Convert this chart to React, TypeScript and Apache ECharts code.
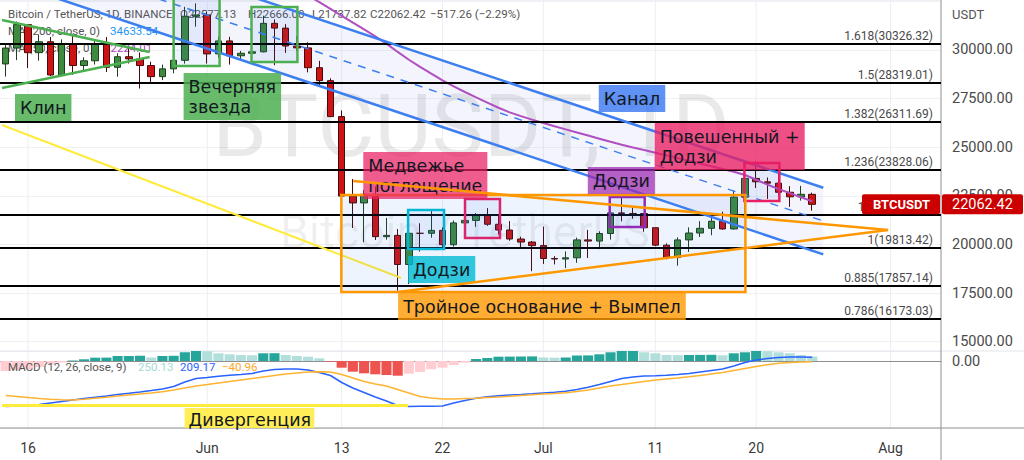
import React, { useEffect, useRef } from 'react';
import * as echarts from 'echarts';

// ---------- data ----------
function makeDates(y: number, m: number, d: number, n: number): string[] {
  const out: string[] = [];
  const t0 = Date.UTC(y, m - 1, d);
  for (let k = 0; k < n; k++) out.push(new Date(t0 + k * 86400000).toISOString().slice(0, 10));
  return out;
}
// daily categories 2022-05-14 .. 2022-08-05
const dates = makeDates(2022, 5, 14, 84);

// [open, close, low, high]
const ohlc: number[][] = [
  [29283, 30101, 28630, 30350], [30101, 31305, 29480, 31460], [31305, 29862, 29070, 31305],
  [29862, 30425, 29450, 30788], [30425, 28715, 28654, 30667], [28715, 30319, 28694, 30545],
  [30319, 29201, 28730, 30777], [29201, 29445, 28950, 29625], [29445, 30293, 29255, 30487],
  [30293, 29110, 28866, 30670], [29110, 29655, 28625, 29834], [29655, 29542, 29305, 30200],
  [29542, 29201, 28019, 29872], [29201, 28630, 28260, 29397], [28630, 29030, 28450, 29250],
  [29030, 29469, 28800, 29600], [29469, 31734, 29300, 32222], [31734, 31802, 31200, 32399],
  [31802, 29799, 29300, 31982], [29799, 30467, 29594, 30689], [30467, 29704, 29250, 30676],
  [29704, 29832, 29450, 29950], [29832, 29906, 29500, 30180], [29906, 31370, 29880, 31765],
  [31370, 31125, 29219, 31575], [31125, 30204, 29850, 31330], [30204, 30109, 29944, 30700],
  [30109, 29091, 28850, 30400], [29091, 28424, 28100, 29440], [28424, 26574, 26560, 28544],
  [26574, 22487, 21925, 26895], [22485, 22136, 20846, 23363], [22136, 22583, 20111, 22800],
  [22583, 20401, 20232, 22983], [20400, 20468, 20246, 21365], [20468, 18970, 17622, 20792],
  [18970, 20574, 17960, 20815], [20574, 20573, 19637, 21090], [20573, 20724, 20348, 21723],
  [20724, 19987, 19770, 20880], [19987, 21110, 19890, 21233], [21110, 21237, 20740, 21558],
  [21237, 21492, 20906, 21614], [21492, 21038, 20960, 21868], [21038, 20742, 20510, 21540],
  [20742, 20281, 20188, 21200], [20281, 20123, 19849, 20400], [20123, 19942, 18626, 20179],
  [19942, 19279, 19000, 20918], [19279, 19252, 18975, 19400], [19252, 19315, 18781, 19647],
  [19315, 20236, 19055, 20354], [20236, 20175, 19304, 20750], [20175, 20564, 19761, 20675],
  [20564, 21624, 20251, 21838], [21624, 21594, 21189, 22527], [21594, 21591, 21322, 21980],
  [21591, 20862, 20655, 21607], [20862, 19963, 19910, 20868], [19963, 19328, 19235, 20059],
  [19328, 20234, 18910, 20366], [20235, 20588, 19616, 20880], [20588, 20830, 20383, 21200],
  [20830, 21195, 20475, 21588], [21195, 20798, 20755, 21684], [20799, 22432, 20762, 22777],
  [22432, 23396, 21581, 23800], [23396, 23223, 22906, 24276], [23223, 23152, 22341, 23442],
  [23152, 22684, 22500, 23756], [22684, 22451, 21934, 23000], [22451, 22579, 22257, 23014],
  [22577.13, 22062.42, 21737.82, 22666.0],
];

// 50-day moving average (starts above the visible range)
const ma50: (number | null)[] = [
  null, null, null, null, null, null, null, null, null, null, null, null, null, null, null, null, null, null,
  null, null, null, null, null, null, null, null, null,
  32800, 32460, 32110, 31760, 31410, 31060, 30700, 30330, 29900, 29500, 29130, 28780, 28440, 28130,
  27840, 27560, 27290, 27030, 26790, 26600, 26420, 26250, 26080, 25920, 25760, 25600, 25440, 25280,
  25130, 24990, 24860, 24720, 24580, 24440, 24290, 24150, 24020, 23880, 23740, 23570, 23330, 23080,
  22850, 22640, 22430, 22224.01,
];

// MACD (12, 26, close, 9)
const macdHist: number[] = [
  -550, -495, -440, -330, -193, -83, 28, 94, 182, 187, 275, 281, 286, 193, 275, 286, 479, 550,
  534, 424, 369, 330, 319, 424, 429, 330, 275, 237, 149, -39, -369, -589, -677, -732, -770, -809,
  -699, -605, -457, -369, -220, -94, 110, 165, 237, 242, 248, 253,
  193, 182, 193, 303, 308, 369, 479, 550, 556, 479, 424, 330, 325, 330, 336, 341, 314, 424, 479,
  550, 539, 479, 424, 330, 250.13,
];
const macdLine: number[] = [
  -2503, -2475, -2437, -2393, -2310, -2228, -2145, -2063, -1991, -1925, -1843, -1777, -1705, -1623,
  -1540, -1403, -1155, -963,
  -908, -836, -787, -743, -688, -550, -468, -440, -440, -495, -633, -798, -1183, -1485, -1733, -1980,
  -2200, -2448, -2503, -2492, -2486, -2475, -2310, -2173, -2052, -1964, -1909, -1870, -1843, -1804,
  -1760, -1722, -1667, -1568, -1447, -1293, -1128, -963, -880, -825, -809, -787, -743, -688, -605,
  -523, -440, -275, -83, 55, 138, 190, 215, 222, 209.17,
];
const macdSignal: number[] = [
  -1898, -1953, -2008, -2063, -2107, -2134, -2145, -2107, -2052, -1997, -1925, -1870, -1815, -1760,
  -1694, -1595, -1485, -1375,
  -1293, -1210, -1128, -1045, -963, -880, -798, -715, -660, -605, -589, -605, -743, -935, -1128, -1265,
  -1375, -1568, -1760, -1953, -2035, -2090, -2090, -2068, -2046, -2008, -1980, -1936, -1898, -1859,
  -1815, -1788, -1744, -1678, -1595, -1485, -1375, -1293, -1210, -1128, -1045, -990, -935, -869, -798,
  -715, -633, -523, -413, -303, -200, -120, -80, -60, -40.96,
];

// time-axis ticks
const tickDates = ['2022-05-16', '2022-06-01', '2022-06-13', '2022-06-22', '2022-07-01', '2022-07-11', '2022-07-20', '2022-08-01'];
const tickTexts = ['16', 'Jun', '13', '22', 'Jul', '11', '20', 'Aug'];

// Fibonacci extension levels
const fibRatios = ['1.618', '1.5', '1.382', '1.236', '1.1', '1', '0.885', '0.786'];
const fibPrices = [30326.32, 28319.01, 26311.69, 23828.06, 21514.5, 19813.42, 17857.14, 16173.03];

// ---------- drawings (anchored in [day index, price]) ----------
type Pt = [number, number];
const wedgeTop: Pt[] = [[-0.32, 31543], [12.86, 29897]];
const wedgeBottom: Pt[] = [[-0.32, 28046], [12.86, 29640]];
const yellowTrend: Pt[] = [[-0.32, 26143], [35.31, 18276]];
const channelUpper: Pt[] = [[17.5, 33600], [72.99, 22919]];
const channelLower: Pt[] = [[-0.32, 33600], [72.99, 19493]];
const channelMid: Pt[] = [[8.59, 33600], [72.99, 21207]];
const channelArea: Pt[] = [[-0.32, 37028], [72.99, 22919], [72.99, 19493], [-0.32, 33600]];
const pennantUpper: Pt[] = [[31.03, 23264], [78.78, 20744]];
const pennantLower: Pt[] = [[35.04, 17556], [78.78, 20744]];

const GREEN = '#4caf50', CYAN = '#00bcd4', PINK = '#e91e63', PURPLE = '#9c27b0', ORANGE = '#ff9800';
const boxes: { from: Pt; to: Pt; color: string }[] = [
  { from: [15.0, 33000], to: [19.1, 29177], color: GREEN },
  { from: [21.95, 32211], to: [26.05, 29383], color: GREEN },
  { from: [35.93, 21772], to: [39.14, 19767], color: CYAN },
  { from: [41.01, 22338], to: [44.13, 20333], color: PINK },
  { from: [53.93, 22441], to: [57.05, 20898], color: PURPLE },
  { from: [65.95, 24189], to: [69.07, 22235], color: PINK },
  { from: [29.97, 22544], to: [66.04, 17556], color: ORANGE },
];
const notes: { text: string; at: Pt; bg: string }[] = [
  { text: 'Клин', at: [0.84, 27737], bg: 'rgba(76,175,80,0.85)' },
  { text: 'Вечерняя\nзвезда', at: [15.89, 28817], bg: 'rgba(76,175,80,0.85)' },
  { text: 'Медвежье\nпоглощение', at: [31.93, 24755], bg: 'rgba(233,30,99,0.72)' },
  { text: 'Додзи', at: [35.93, 19407], bg: 'rgba(0,188,212,0.8)' },
  { text: 'Канал', at: [52.95, 28200], bg: 'rgba(41,110,240,0.75)' },
  { text: 'Додзи', at: [51.97, 23984], bg: 'rgba(156,39,176,0.72)' },
  { text: 'Повешенный +\nДодзи', at: [57.94, 26246], bg: 'rgba(233,30,99,0.78)' },
  { text: 'Тройное основание + Вымпел', at: [35.04, 17504], bg: 'rgba(255,152,0,0.8)' },
];
const divergenceLine: Pt[] = [[-0.32, -2448], [35.93, -2448]];
const divergenceNote = { text: 'Дивергенция', from: [15.98, -2585] as Pt, to: [27.56, -3685] as Pt };

const FONT_UI = 'Roboto, "Liberation Sans", sans-serif';
const FONT_NOTE = '"DejaVu Sans", Verdana, sans-serif';
const INK = '#131722';

export default function App() {
  const ref = useRef<HTMLDivElement>(null);

  useEffect(() => {
    const chart = echarts.init(ref.current!, null, { renderer: 'svg' });

    const histData = macdHist.map((v, k) => {
      const prev = k > 0 ? macdHist[k - 1] : v;
      const color = v >= 0 ? (v >= prev ? '#26a69a' : '#b2dfdb') : (v < prev ? '#ef5350' : '#ffcdd2');
      return { value: v, itemStyle: { color } };
    });

    chart.setOption({
      animation: false,
      backgroundColor: '#ffffff',
      grid: [
        { left: -2, right: 83, top: 0, height: 341.7 },
        { left: -2, right: 83, top: 351, height: 77 },
      ],
      xAxis: [
        {
          type: 'category', gridIndex: 0, data: dates, boundaryGap: true,
          axisLine: { show: false }, axisTick: { show: false }, axisLabel: { show: false }, splitLine: { show: false },
        },
        {
          type: 'category', gridIndex: 1, data: dates, boundaryGap: true,
          axisLine: { show: true, lineStyle: { color: '#8f8f8f', width: 1 } },
          axisTick: { show: false }, splitLine: { show: false },
          axisLabel: {
            interval: (_i: number, v: string) => tickDates.indexOf(v) >= 0,
            formatter: (v: string) => tickTexts[tickDates.indexOf(v)] ?? '',
            color: '#3a3a3a', fontSize: 14, fontFamily: FONT_UI, margin: 13,
          },
        },
      ],
      yAxis: [
        {
          type: 'value', gridIndex: 0, position: 'right', min: 15000, max: 32571, interval: 2500,
          axisLine: { show: false }, axisTick: { show: false },
          splitLine: { show: true, lineStyle: { color: '#f0f1f4', width: 1 } },
          axisLabel: {
            formatter: (v: number) => (v % 2500 === 0 && v <= 30000 ? v.toFixed(2) : ''),
            color: '#4a4a4a', fontSize: 14.5, fontFamily: FONT_UI, margin: 11,
          },
        },
        {
          type: 'value', gridIndex: 1, position: 'right', min: -3685, max: 550, interval: 3685,
          axisLine: { show: false }, axisTick: { show: false },
          splitLine: { show: true, lineStyle: { color: '#eceef2', width: 1 } },
          axisLabel: {
            formatter: (v: number) => (v === 0 ? '0.00' : ''),
            color: '#4a4a4a', fontSize: 14.5, fontFamily: FONT_UI, margin: 11,
          },
        },
      ],
      series: [
        {
          name: 'BTCUSDT', type: 'candlestick', xAxisIndex: 0, yAxisIndex: 0, data: ohlc, barWidth: 7,
          itemStyle: { color: '#3e8a3e', color0: '#cc1414', borderColor: '#1f3f1f', borderColor0: '#4a0808', borderWidth: 1 },
          markLine: {
            silent: true, symbol: 'none', z: 6,
            lineStyle: { color: '#000000', width: 2, type: 'solid' },
            label: {
              position: 'insideEndTop', distance: [8, 2], color: '#4a4a4a', fontSize: 12, fontFamily: FONT_UI,
              formatter: (p: any) => p.name,
            },
            data: fibPrices.map((v, k) => ({ name: `${fibRatios[k]}(${v.toFixed(2)})`, yAxis: v })),
          },
        },
        {
          name: 'MA 50', type: 'line', xAxisIndex: 0, yAxisIndex: 0, data: ma50, symbol: 'none',
          lineStyle: { color: '#b04fc0', width: 2 }, z: 3,
        },
        {
          name: 'Histogram', type: 'bar', xAxisIndex: 1, yAxisIndex: 1, data: histData, barWidth: '90%',
        },
        {
          name: 'MACD', type: 'line', xAxisIndex: 1, yAxisIndex: 1, data: macdLine, symbol: 'none',
          lineStyle: { color: '#2962ff', width: 1.5 },
        },
        {
          name: 'Signal', type: 'line', xAxisIndex: 1, yAxisIndex: 1, data: macdSignal, symbol: 'none',
          lineStyle: { color: '#ffb330', width: 1.5 },
        },
      ],
    });

    // pixel helpers through the chart's own scales
    const x0 = chart.convertToPixel({ xAxisIndex: 0 }, 0) as number;
    const step = (chart.convertToPixel({ xAxisIndex: 0 }, 1) as number) - x0;
    const X = (i: number) => x0 + i * step;
    const Y = (v: number, pane = 0) => chart.convertToPixel({ yAxisIndex: pane }, v) as number;
    const P = (p: Pt, pane = 0) => [X(p[0]), Y(p[1], pane)];
    const seg = (pts: Pt[], color: string, width: number, z: number, dash?: number[], pane = 0) => {
      const a = P(pts[0], pane), b = P(pts[1], pane);
      return {
        type: 'line', z, silent: true,
        shape: { x1: a[0], y1: a[1], x2: b[0], y2: b[1] },
        style: { stroke: color, lineWidth: width, lineDash: dash ?? null },
      };
    };

    const axisX = X(dates.length - 0.5);
    const macdBottom = Y(-3685, 1);
    const g: any[] = [];

    // watermark
    g.push({ type: 'text', z: 0, silent: true, x: 471, y: 125,
      style: { text: 'BTCUSDT, 1D', fill: 'rgba(0,0,0,0.085)', fontSize: 88, fontFamily: FONT_UI, align: 'center', verticalAlign: 'middle' } });
    g.push({ type: 'text', z: 0, silent: true, x: 465, y: 232,
      style: { text: 'Bitcoin / TetherUS', fill: 'rgba(0,0,0,0.065)', fontSize: 46, fontFamily: FONT_UI, align: 'center', verticalAlign: 'middle' } });

    // vertical grid lines at labelled dates
    tickDates.forEach((d) => {
      const x = X(dates.indexOf(d));
      g.push({ type: 'line', z: 0, silent: true, shape: { x1: x, y1: 0, x2: x, y2: macdBottom }, style: { stroke: '#eceef2', lineWidth: 1 } });
    });

    // pane separators and price-scale border
    g.push({ type: 'line', z: 1, silent: true, shape: { x1: 0, y1: 351, x2: 1024, y2: 351 }, style: { stroke: '#e3e5ea', lineWidth: 1 } });
    g.push({ type: 'line', z: 1, silent: true, shape: { x1: 0, y1: macdBottom, x2: 1024, y2: macdBottom }, style: { stroke: '#8f8f8f', lineWidth: 1 } });
    g.push({ type: 'line', z: 1, silent: true, shape: { x1: axisX, y1: 0, x2: axisX, y2: 460 }, style: { stroke: '#8f8f8f', lineWidth: 1 } });

    // legends
    const legend = (x: number, y: number, text: string, fill: string, z = 0) =>
      g.push({ type: 'text', z, silent: true, x, y, style: { text, fill, fontSize: 11.5, fontFamily: FONT_UI, verticalAlign: 'middle' } });
    legend(8, 14, 'Bitcoin / TetherUS, 1D, BINANCE', '#555');
    legend(180, 14, 'O22577.13', '#555');
    legend(248, 14, 'H22666.00', '#555');
    legend(312, 14, 'L21737.82', '#555');
    legend(370, 14, 'C22062.42', '#555');
    legend(430, 14, '−517.26 (−2.29%)', '#555');
    legend(8, 31, 'MA (200, close, 0)', '#555');
    legend(110, 31, '34633.54', '#2196f3');
    legend(8, 48, 'MA (50, close, 0)', '#555');
    legend(104, 48, '22224.01', '#ab47bc');
    legend(8, 367, 'MACD (12, 26, close, 9)', '#555', 5);
    legend(138, 367, '250.13', '#a6d9d3', 5);
    legend(180, 367, '209.17', '#2962ff', 5);
    legend(222, 367, '−40.96', '#ffa726', 5);
    g.push({ type: 'text', z: 5, silent: true, x: 952, y: 14, style: { text: 'USDT', fill: '#555', fontSize: 13, fontFamily: FONT_UI, verticalAlign: 'middle' } });

    // channel
    g.push({ type: 'polygon', z: 1, silent: true, shape: { points: channelArea.map((p) => P(p)) }, style: { fill: 'rgba(90,100,210,0.07)' } });
    g.push(seg(channelUpper, '#3d7ff0', 2.5, 10));
    g.push(seg(channelLower, '#3d7ff0', 2.5, 10));
    g.push(seg(channelMid, '#3d7ff0', 1.5, 10, [8, 7]));

    // wedge and trend lines
    g.push(seg(wedgeTop, '#4caf50', 2.5, 10));
    g.push(seg(wedgeBottom, '#4caf50', 2.5, 10));
    g.push(seg(yellowTrend, '#ffeb3b', 2, 10));

    // pattern boxes
    boxes.forEach((b) => {
      const a = P(b.from), c = P(b.to);
      g.push({ type: 'rect', z: 11, silent: true,
        shape: { x: a[0], y: a[1], width: c[0] - a[0], height: c[1] - a[1] },
        style: { fill: 'rgba(33,120,243,0.08)', stroke: b.color, lineWidth: 2.5 } });
    });

    // notes
    notes.forEach((n) => {
      const a = P(n.at);
      g.push({ type: 'text', z: 12, silent: true, x: a[0], y: a[1],
        style: { text: n.text, fill: INK, fontSize: 17.5, fontFamily: FONT_NOTE, lineHeight: 20,
          backgroundColor: n.bg, padding: [4, 5, 3, 5], align: 'left', verticalAlign: 'top' } });
    });

    // pennant drawn above the notes
    g.push(seg(pennantUpper, '#ff9800', 2.5, 13));
    g.push(seg(pennantLower, '#ff9800', 2.5, 13));

    // MACD divergence
    g.push(seg(divergenceLine, '#ffeb3b', 3, 10, undefined, 1));
    {
      const a = P(divergenceNote.from, 1), c = P(divergenceNote.to, 1);
      g.push({ type: 'rect', z: 12, silent: true, shape: { x: a[0], y: a[1], width: c[0] - a[0], height: c[1] - a[1] },
        style: { fill: 'rgba(255,235,59,0.85)' } });
      g.push({ type: 'text', z: 13, silent: true, x: a[0] + 4, y: a[1] + 3,
        style: { text: divergenceNote.text, fill: INK, fontSize: 17.5, fontFamily: FONT_NOTE, align: 'left', verticalAlign: 'top' } });
    }

    // last price labels
    const last = ohlc[ohlc.length - 1][1];
    const ly = Y(last);
    g.push({ type: 'rect', z: 14, silent: true, shape: { x: 862, y: ly - 10, width: axisX - 862 - 1, height: 20, r: 2 }, style: { fill: '#cc0000' } });
    g.push({ type: 'text', z: 15, silent: true, x: (862 + axisX) / 2, y: ly,
      style: { text: 'BTCUSDT', fill: '#fff', fontSize: 13, fontWeight: 'bold', fontFamily: FONT_UI, align: 'center', verticalAlign: 'middle' } });
    g.push({ type: 'rect', z: 14, silent: true, shape: { x: axisX + 1, y: ly - 10, width: 81, height: 20, r: 2 }, style: { fill: '#cc0000' } });
    g.push({ type: 'text', z: 15, silent: true, x: axisX + 11, y: ly,
      style: { text: last.toFixed(2), fill: '#fff', fontSize: 14.5, fontFamily: FONT_UI, align: 'left', verticalAlign: 'middle' } });

    chart.setOption({ graphic: g });

    return () => chart.dispose();
  }, []);

  return <div ref={ref} style={{ width: 1024, height: 460, position: 'absolute', left: 0, top: 0 }} />;
}
